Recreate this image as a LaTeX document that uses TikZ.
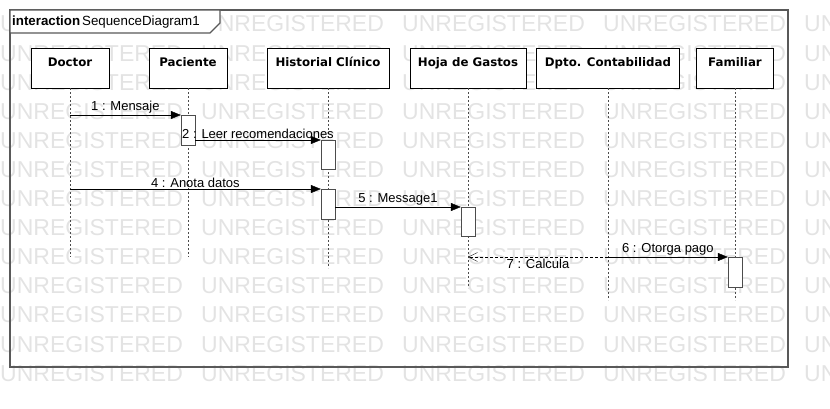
\documentclass[tikz,border=0pt]{standalone}
\usepackage{fontspec}
\setmainfont{Liberation Sans}
\newfontfamily\headfont{DejaVu Sans}
\usetikzlibrary{arrows.meta}

\tikzset{
  wm/.style={anchor=west, inner sep=0pt, text=black!11, font=\fontsize{23}{24}\selectfont},
  frame/.style={draw=black!65, line width=1.2pt},
  head/.style={draw, fill=white, anchor=north, minimum height=40pt, inner sep=0pt,
    text height=9pt, text depth=13pt, font=\headfont\bfseries\fontsize{11.8}{12}\selectfont},
  act/.style={draw=black!70, fill=white, anchor=north, minimum width=14pt, inner sep=0pt},
  life/.style={draw=black!70, dash pattern=on 2pt off 2pt},
  msg/.style={-{Triangle[length=10pt,width=8pt]}},
  reply/.style={dash pattern=on 3pt off 2pt, -{Straight Barb[length=9pt,width=9pt]}},
  lbl/.style={font=\fontsize{13}{14}\selectfont, inner sep=1.5pt}
}

\begin{document}
\begin{tikzpicture}[x=1pt,y=-1pt]
  \useasboundingbox (0,0) rectangle (830,409);
  % watermark
  \begin{scope}
    \clip (0,0) rectangle (830,409);
    \foreach \r in {0,...,12}
      \foreach \c in {0,...,4}
        \node[wm] (wm-\r-\c) at (\c*201,24+\r*29.1) {UNREGISTERED};
  \end{scope}
  % frame
  \draw[frame] (10,10) rectangle (788,367);
  \draw[frame, fill=white] (10,10) -- (10,33) -- (210,33) -- (220,23) -- (220,10) -- cycle;
  \node[anchor=west, inner sep=0pt, font=\fontsize{13.3}{14}\selectfont] (title) at (12,22)
    {\textbf{interaction}\hspace{2pt}SequenceDiagram1};
  % lifelines
  \node[head, minimum width=78pt]  (doctor)    at (70,48)  {Doctor};
  \node[head, minimum width=78pt]  (paciente)  at (188,48) {Paciente};
  \node[head, minimum width=122pt] (historial) at (328,48) {Historial Clínico};
  \node[head, minimum width=116pt] (hoja)      at (468,48) {Hoja de Gastos};
  \node[head, minimum width=143pt] (dpto)      at (608,48) {Dpto. Contabilidad};
  \node[head, minimum width=77pt]  (familiar)  at (735,48) {Familiar};
  \foreach \n/\len in {doctor/169, paciente/169, historial/180, hoja/200, dpto/212, familiar/212}
    \draw[life] (\n.south) -- ++(0,\len);
  % activations
  \node[act, minimum height=30pt] (actP)  at (188,115) {};
  \node[act, minimum height=29pt] (actH1) at (328,140) {};
  \node[act, minimum height=30pt] (actH2) at (328,189) {};
  \node[act, minimum height=29pt] (actHo) at (468,207) {};
  \node[act, minimum height=30pt] (actF)  at (735,257) {};
  % messages
  \draw[msg] (doctor |- actP.north) -- node[lbl, above] {1 : Mensaje} (actP.north west);
  \draw[msg] (actP.east |- actH1.north) -- node[lbl, above] {2 : Leer recomendaciones} (actH1.north west);
  \draw[msg] (doctor |- actH2.north) -- node[lbl, above] {4 : Anota datos} (actH2.north west);
  \draw[msg] (actH2.east |- actHo.north) -- node[lbl, above] {5 : Message1} (actHo.north west);
  \draw[msg] (dpto |- actF.north) -- node[lbl, above] {6 : Otorga pago} (actF.north west);
  \draw[reply] (dpto |- actF.north) -- node[lbl, below] {7 : Calcula} (hoja |- actF.north);
\end{tikzpicture}
\end{document}
